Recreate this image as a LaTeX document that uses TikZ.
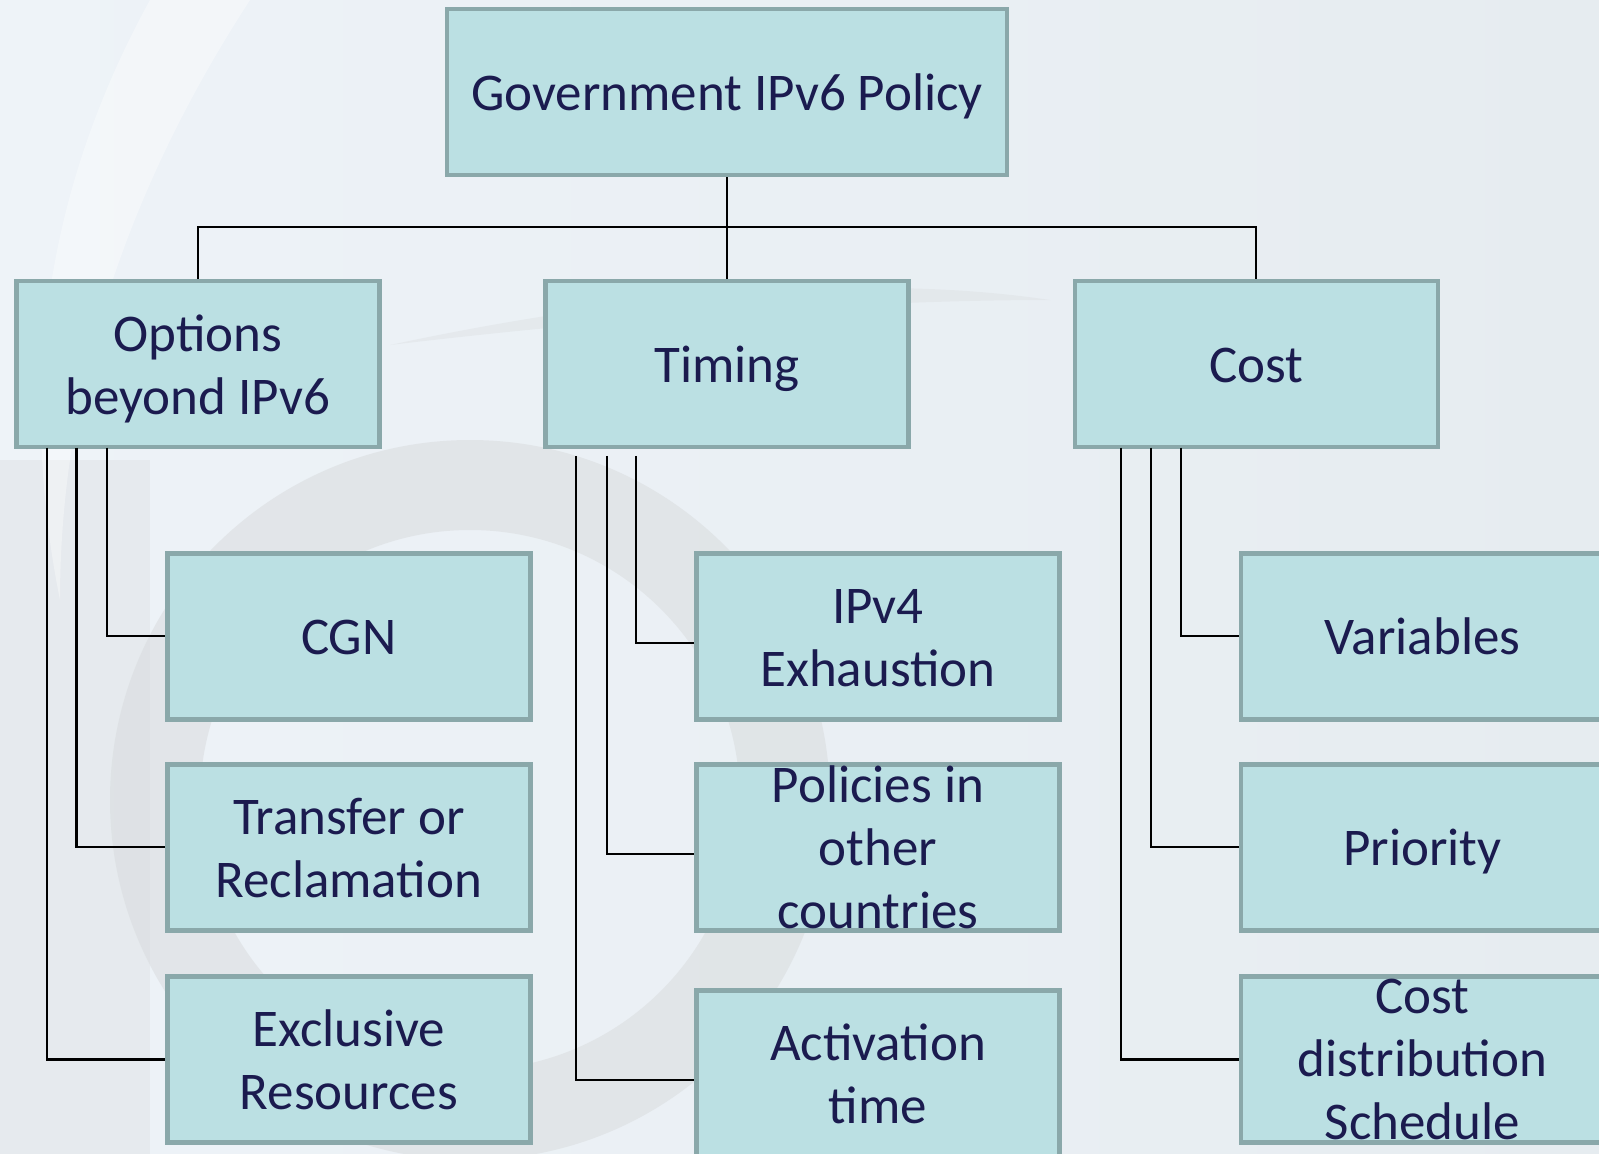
\documentclass[tikz,border=0pt]{standalone}
\usepackage{fontspec}
\setmainfont{Carlito}
\newcommand\mytop{\rule{0pt}{48pt}}
\newcommand\mybot{\rule[-11pt]{0pt}{11pt}}
\begin{document}
\begin{tikzpicture}[x=1pt,y=-1pt,
  box/.style={draw=boxline, line width=4.5pt, fill=boxfill, text=navy,
    minimum width=363pt, minimum height=166pt, inner sep=0pt, align=center,
    font=\fontsize{53}{63}\selectfont},
  st/.style={execute at begin node={\rule[-11pt]{0pt}{59pt}},
    execute at end node={\rule[-11pt]{0pt}{1pt}}},
  conn/.style={draw=black, line width=2.1pt}]
\definecolor{boxfill}{HTML}{BBE0E3}
\definecolor{boxline}{HTML}{8AA8AA}
\definecolor{navy}{HTML}{1B1B4F}
\definecolor{bgA}{HTML}{EEF3F8}
\definecolor{bgB}{HTML}{E6ECF0}
\definecolor{swoosh}{HTML}{D9DCDE}
\useasboundingbox (0,0) rectangle (1599,1154);
\begin{scope}
\clip (0,0) rectangle (1599,1154);
\shade[left color=bgA, right color=bgB] (0,0) rectangle (1599,1154);
% faint background swooshes
\fill[swoosh, opacity=0.55, even odd rule] (470,800) circle (360) (470,800) circle (270);
\fill[swoosh, opacity=0.35] (0,460) rectangle (150,1154);
\fill[swoosh, opacity=0.35] (390,345) .. controls (600,300) and (850,270) .. (1050,300)
  .. controls (850,300) and (600,320) .. (390,345);
\fill[white, opacity=0.35] (150,0) .. controls (40,200) and (20,400) .. (60,600)
  .. controls (60,400) and (120,200) .. (250,0) -- cycle;
% boxes
\node[box, st, minimum width=560pt] (top) at (727,92) {Government IPv6 Policy};
\node[box] (opt) at (197.8,364) {\mytop Options\\beyond IPv6\mybot};
\node[box, st] (tim) at (727,364) {Timing};
\node[box, st] (cost) at (1256.4,364) {Cost};
\node[box, st] (cgn) at (348.8,636.4) {CGN};
\node[box] (trans) at (348.8,847.4) {\mytop Transfer or\\Reclamation\mybot};
\node[box] (excl) at (348.8,1059.5) {\mytop Exclusive\\Resources\mybot};
\node[box] (ipv4) at (878,636.4) {\mytop IPv4\\Exhaustion\mybot};
\node[box] (pol) at (878,847.4) {Policies in\\other\\countries};
\node[box] (act) at (878,1073.7) {\mytop Activation\\time\mybot};
\node[box, st] (var) at (1422.5,636.4) {Variables};
\node[box, st] (prio) at (1422.5,847.4) {Priority};
\node[box] (cdist) at (1422.5,1059.5) {Cost\\distribution\\Schedule};
% top-level connectors
\coordinate (bus) at (727,227.4);
\draw[conn] (top.south) -- (tim.north);
\draw[conn] (opt.north) |- (bus) -| (cost.north);
% Options branches
\draw[conn] (107.1,447.7) |- (cgn.west);
\draw[conn] (76.5,447.7) |- (trans.west);
\draw[conn] (46.9,447.7) |- (excl.west);
% Timing branches
\coordinate (t1) at (636.4,455.8);
\coordinate (t2) at (606.8,455.8);
\coordinate (t3) at (576.2,455.8);
\draw[conn] (t1) |- ([yshift=-7pt]ipv4.west);
\draw[conn] (t2) |- ([yshift=-7pt]pol.west);
\draw[conn] (t3) |- ([yshift=-6pt]act.west);
% Cost branches
\draw[conn] (1180.9,447.7) |- (var.west);
\draw[conn] (1151.3,447.7) |- (prio.west);
\draw[conn] (1120.8,447.7) |- (cdist.west);
\end{scope}
\end{tikzpicture}
\end{document}
